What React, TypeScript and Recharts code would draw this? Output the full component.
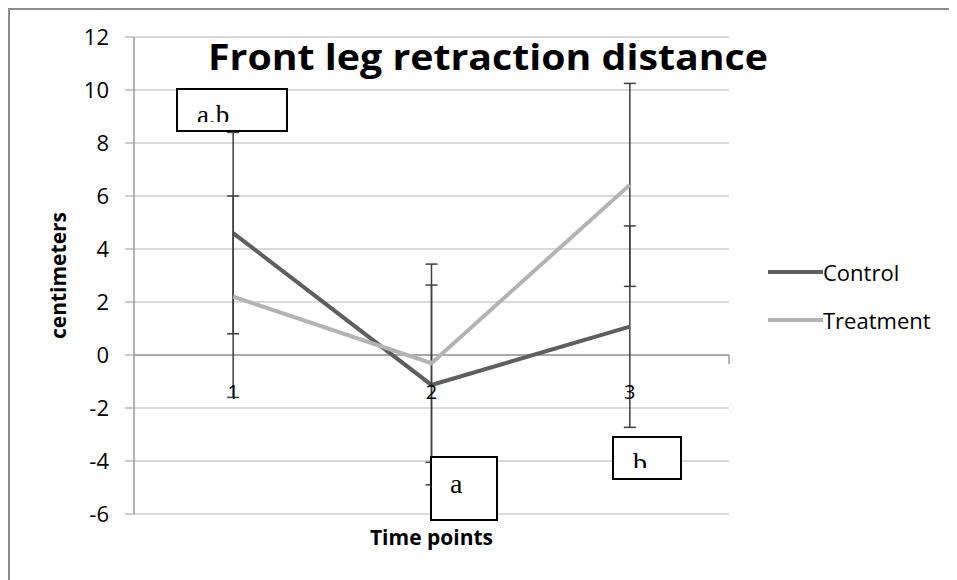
import React from 'react'
import { LineChart, Line, XAxis, YAxis, CartesianGrid, ErrorBar, Legend, ReferenceLine, ReferenceDot } from 'recharts'

const times = ['1', '2', '3']
const control = [4.6, -1.13, 1.07]
const treatment = [2.2, -0.31, 6.42]
const controlErr = [3.8, 3.77, 3.8]
const treatmentErr = [3.8, 3.74, 3.83]
const yTicks = [-6, -4, -2, 0, 2, 4, 6, 8, 10, 12]
const boundaries = [1, 2, 3]

const data = times.map((t, i) => ({
  t,
  Control: control[i],
  Treatment: treatment[i],
  controlErr: controlErr[i],
  treatmentErr: treatmentErr[i],
}))

const sans = '"Open Sans", "Liberation Sans", sans-serif'
const serif = '"Liberation Serif", "DejaVu Serif", serif'
const grid = '#b3b3b3'

if (typeof document !== 'undefined') {
  document.documentElement.style.overflow = 'hidden'
}

const YTitle = (props: any) => {
  const vb = props.viewBox
  const x = vb.x - 16
  const y = vb.y + vb.height / 2
  return (
    <text x={x} y={y} transform={`rotate(-90 ${x} ${y})`} textAnchor="middle" dominantBaseline="central"
      fontFamily={sans} fontWeight="bold" fontSize={21} fill="#000">centimeters</text>
  )
}

const XTitle = (props: any) => {
  const vb = props.viewBox
  return (
    <text x={vb.x + vb.width / 2} y={vb.y + 31} textAnchor="middle" fontFamily={sans} fontWeight="bold" fontSize={21} fill="#000">
      Time points
    </text>
  )
}

const renderLegend = (props: any) => (
  <div>
    {props.payload.map((e: any) => (
      <div key={e.value} style={{ display: 'flex', alignItems: 'center', height: 48 }}>
        <svg width={55} height={6}><line x1={0} y1={3} x2={55} y2={3} stroke={e.color} strokeWidth={4} /></svg>
        <span style={{ fontFamily: sans, fontSize: 22, color: '#000', lineHeight: 1 }}>{e.value}</span>
      </div>
    ))}
  </div>
)

export default function App() {
  return (
    <div style={{ position: 'relative', width: 949, height: 572, boxSizing: 'border-box', borderTop: '2px solid #8c8c8c', borderLeft: '2px solid #8c8c8c', overflow: 'hidden', background: '#fff' }}>
      <LineChart width={947} height={570} data={data} margin={{ top: 27, right: 228, bottom: 26, left: 64 }}>
        <CartesianGrid vertical={false} stroke={grid} strokeWidth={1} />
        <XAxis dataKey="t" type="category" scale="band" height={40} axisLine={false} tickLine={false} tick={false} label={<XTitle />} />
        <XAxis xAxisId="b" type="number" domain={[0, 3]} hide />
        <YAxis width={60} domain={[-6, 12]} ticks={yTicks} interval={0} tickSize={9} tickMargin={16}
          axisLine={{ stroke: '#999', strokeWidth: 1.5 }} tickLine={{ stroke: '#999' }}
          tick={{ fontFamily: sans, fontSize: 22, fill: '#000' }} label={<YTitle />} />
        <ReferenceLine y={0} stroke="#999" strokeWidth={1.5} />
        {boundaries.map((b) => (
          <ReferenceLine key={b} xAxisId="b" segment={[{ x: b, y: 0 }, { x: b, y: -0.34 }]} stroke="#999" strokeWidth={1.5} ifOverflow="visible" />
        ))}
        {times.map((t) => (
          <ReferenceDot key={t} x={t} y={0} r={1} fill="none" stroke="none"
            label={{ value: t, position: 'bottom', offset: 29, fontFamily: sans, fontSize: 20, fill: '#000' }} />
        ))}
        <Legend layout="vertical" align="center" verticalAlign="middle" content={renderLegend}
          wrapperStyle={{ left: 758, top: 238, width: 'auto' }} />
        <Line dataKey="Control" stroke="#5e5e5e" strokeWidth={4} dot={false} isAnimationActive={false}>
          <ErrorBar dataKey="controlErr" width={6} stroke="#3f3f3f" strokeWidth={1.5} />
        </Line>
        <Line dataKey="Treatment" stroke="#b3b3b3" strokeWidth={4} dot={false} isAnimationActive={false}>
          <ErrorBar dataKey="treatmentErr" width={6} stroke="#3f3f3f" strokeWidth={1.5} />
        </Line>
      </LineChart>
      <svg width={947} height={570} style={{ position: 'absolute', left: 0, top: 0, pointerEvents: 'none' }}>
        <defs>
          <clipPath id="clipAB"><rect x={167} y={79} width={110} height={33} /></clipPath>
          <clipPath id="clipB"><rect x={603} y={427} width={68} height={31} /></clipPath>
        </defs>
        <text x={478} y={60} textAnchor="middle" fontFamily={sans} fontWeight="bold" fontSize={35} fill="#000"
          textLength={560} lengthAdjust="spacingAndGlyphs">Front leg retraction distance</text>
        <rect x={167} y={79} width={110} height={42} fill="#fff" stroke="#000" strokeWidth={2} />
        <text x={187} y={114} fontFamily={serif} fontSize={27} fill="#000" clipPath="url(#clipAB)">a,b</text>
        <rect x={421} y={447} width={66} height={63} fill="#fff" stroke="#000" strokeWidth={2} />
        <text x={440} y={483} fontFamily={serif} fontSize={28} fill="#000">a</text>
        <rect x={603} y={427} width={68} height={42} fill="#fff" stroke="#000" strokeWidth={2} />
        <text x={623} y={462} fontFamily={serif} fontSize={28} fill="#000" clipPath="url(#clipB)">b</text>
      </svg>
    </div>
  )
}
